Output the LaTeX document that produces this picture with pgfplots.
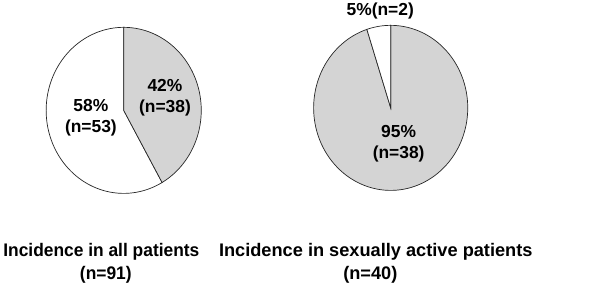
\documentclass[border=0pt]{standalone}
\usepackage{pgfplots}
\pgfplotsset{compat=1.18}
\usepackage{fontspec}
\setmainfont{Liberation Sans}
\newfontfamily\narrowfont[FakeStretch=0.955]{Liberation Sans}
\definecolor{piegray}{HTML}{D4D4D4}
\begin{document}
\begin{tikzpicture}
\begin{axis}[width=600pt,height=285pt,scale only axis,hide axis,
  xmin=0,xmax=600,ymin=0,ymax=285,clip=false]
\addplot[draw=none] coordinates {(0,0) (600,285)};
% left pie: 38 of 91 (grey), 53 of 91 (white)
\addplot[fill=white,draw=black!85,line width=0.7pt,domain=90:90+360*53/91,samples=120,variable=\t]
  ({121+78*cos(t)},{176.5+83.5*sin(t)}) -- (121,176.5) -- cycle;
\addplot[fill=piegray,draw=black!85,line width=0.7pt,domain=90-360*38/91:90,samples=120,variable=\t]
  ({121+78*cos(t)},{176.5+83.5*sin(t)}) -- (121,176.5) -- cycle;
% right pie: 38 of 40 (grey), 2 of 40 (white)
\addplot[fill=piegray,draw=black!85,line width=0.7pt,domain=90+360*2/40:450,samples=160,variable=\t]
  ({389.5+77.5*cos(t)},{179+83*sin(t)}) -- (389.5,179) -- cycle;
\addplot[fill=white,draw=black!85,line width=0.7pt,domain=90:90+360*2/40,samples=30,variable=\t]
  ({389.5+77.5*cos(t)},{179+83*sin(t)}) -- (389.5,179) -- cycle;
% labels
\node[font=\bfseries\fontsize{17.5}{21}\selectfont,align=center] at (88,168.75) {58\%\\(n=53)};
\node[font=\bfseries\fontsize{17.5}{21}\selectfont,align=center] at (162.5,189.1) {42\%\\(n=38)};
\node[font=\bfseries\fontsize{17.5}{21}\selectfont,align=center] at (397.5,143) {95\%\\(n=38)};
\node[font=\bfseries\fontsize{17.5}{21}\selectfont] at (379,276) {5\%(n=2)};
% titles
\node[font=\narrowfont\bfseries\fontsize{18.3}{21}\selectfont] at (98.5,34) {Incidence in all patients};
\node[font=\narrowfont\bfseries\fontsize{18.3}{21}\selectfont] at (103,11) {(n=91)};
\node[font=\bfseries\fontsize{18.3}{21}\selectfont] at (374.5,34) {Incidence in sexually active patients};
\node[font=\bfseries\fontsize{18.3}{21}\selectfont] at (369,11) {(n=40)};
\end{axis}
\end{tikzpicture}
\end{document}
